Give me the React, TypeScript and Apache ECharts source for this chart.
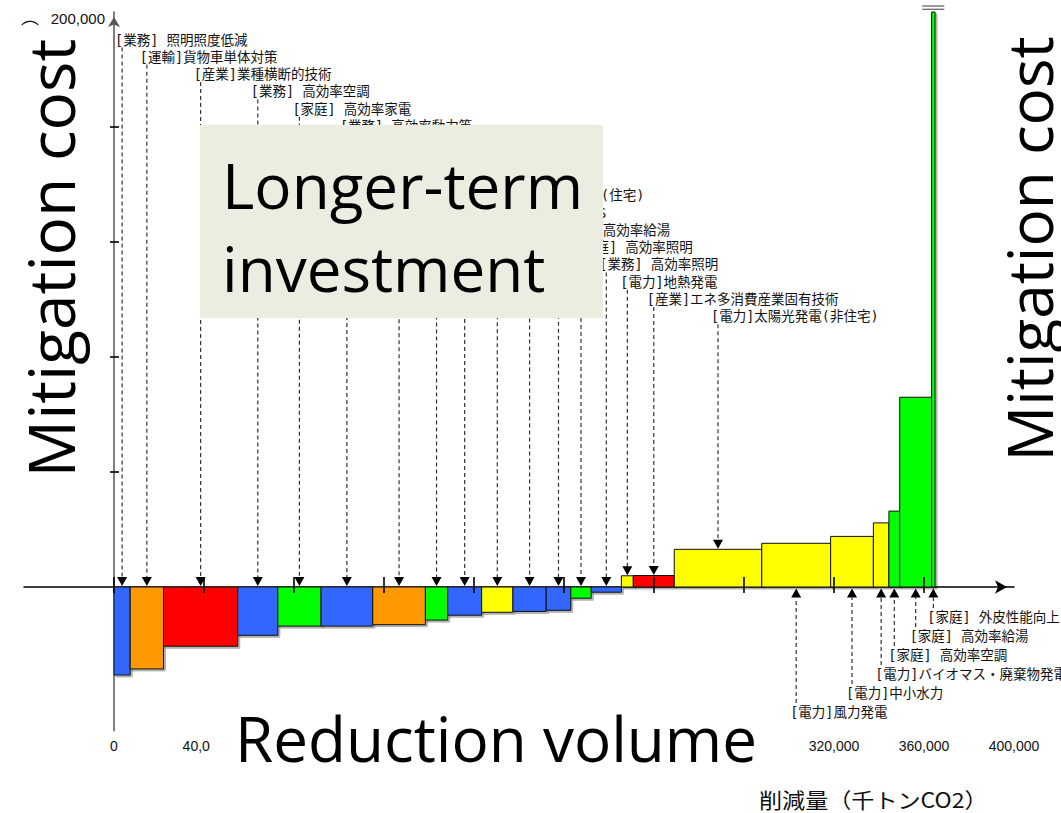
import React, { useEffect, useRef } from 'react';
import * as echarts from 'echarts';

// ---- data ----
// cumulative reduction volume (千トンCO2) at each step boundary
const edges = [0, 7200, 22000, 55000, 72800, 92000, 115000, 138400, 148300, 163400, 177300, 192100, 203000, 212100, 225500, 230800, 249000, 287900, 318500, 337500, 344400, 349200, 363400, 364900];
// mitigation cost of each measure
const costs = [-30600, -28500, -20600, -16800, -13600, -13600, -13100, -11500, -9800, -8800, -8500, -8100, -3900, -1800, 3900, 4000, 13100, 15200, 17600, 22300, 26400, 66000, 200000];
const sectors = ['業務', '運輸', '産業', '業務', '家庭', '業務', '運輸', '家庭', '業務', '電力', '業務', '業務', '家庭', '業務', '電力', '産業', '電力', '電力', '電力', '電力', '家庭', '家庭', '家庭'];
const measureLabels = [
  '[業務] 照明照度低減',
  '[運輸]貨物車単体対策',
  '[産業]業種横断的技術',
  '[業務] 高効率空調',
  '[家庭] 高効率家電',
  '[業務] 高効率動力等',
  '',
  '',
  '',
  '[電力]太陽光発電(住宅)',
  '[業務] BEMS',
  '[業務] 高効率給湯',
  '[家庭] 高効率照明',
  '[業務] 高効率照明',
  '[電力]地熱発電',
  '[産業]エネ多消費産業固有技術',
  '[電力]太陽光発電(非住宅)',
  '[電力]風力発電',
  '[電力]中小水力',
  '[電力]バイオマス・廃棄物発電',
  '[家庭] 高効率空調',
  '[家庭] 高効率給湯',
  '[家庭] 外皮性能向上',
];
const sectorColors: Record<string, string> = {
  '業務': '#3366FF',
  '運輸': '#FF9900',
  '産業': '#FF0000',
  '家庭': '#00FF00',
  '電力': '#FFFF00',
};
const xTickValues = [0, 40000, 80000, 120000, 160000, 200000, 240000, 280000, 320000, 360000];
// x tick labels visible in the picture (the others are covered by the title box)
const xLabelValues = [0, 40000, 320000, 360000, 400000];
const yTickValues = [40000, 80000, 120000, 160000];
const yLabelValues = [200000];

const X_MIN = -40000;
const X_MAX = 400000;
const X_STEP = 40000;
const Y_MIN = -50000;
const Y_MAX = 200000;
const BOTTOM_LABEL_START = 17;

// ---- layout / style ----
const GRID_LEFT = 24;
const GRID_RIGHT = 47;
const CHART_W = 1061;
const TOP_Y0 = 39.5;
const TOP_DY = 17.3;
const BOT_Y0 = 617;
const BOT_DY = 19;
const LABEL_FONT = '"DejaVu Sans Mono", "Noto Sans CJK JP", sans-serif';
const BIG_FONT = '"Open Sans", "Noto Sans", sans-serif';
const BIG_SIZE = 62;

export default function App() {
  const ref = useRef<HTMLDivElement>(null);

  useEffect(() => {
    if (!ref.current) return;
    const chart = echarts.init(ref.current, undefined, { renderer: 'svg' });

    const barData = costs.map((c, i) => [edges[i], edges[i + 1], c]);
    const tickData = [
      ...xTickValues.map((v) => [v, 0, 0]),
      ...yTickValues.map((v) => [0, v, 1]),
    ];
    // y axis sits at x = 0: offset from the grid's left edge
    const plotW = CHART_W - GRID_LEFT - GRID_RIGHT;
    const yAxisOffset = -((0 - X_MIN) / (X_MAX - X_MIN)) * plotW;

    const option: any = {
      animation: false,
      backgroundColor: '#ffffff',
      grid: { left: GRID_LEFT, right: GRID_RIGHT, top: 12, bottom: 82.25, containLabel: false, outerBoundsMode: 'none' },
      xAxis: [
        {
          type: 'value',
          min: X_MIN,
          max: X_MAX,
          interval: X_STEP,
          axisLine: {
            show: true,
            onZero: true,
            symbol: ['none', 'arrow'],
            symbolSize: [10, 12],
            symbolOffset: [0, -7],
            lineStyle: { color: '#000', width: 1.5 },
          },
          axisTick: { show: false },
          axisLabel: { show: false },
          splitLine: { show: false },
        },
        {
          type: 'value',
          position: 'bottom',
          min: X_MIN,
          max: X_MAX,
          interval: X_STEP,
          axisLine: { show: false, onZero: false },
          axisTick: { show: false },
          splitLine: { show: false },
          axisLabel: {
            customValues: xLabelValues,
            margin: 8,
            fontSize: 14,
            fontFamily: '"Liberation Sans Narrow", "Liberation Sans", sans-serif',
            color: '#111',
            formatter: (v: number) => v.toLocaleString('en-US'),
          },
        },
      ],
      yAxis: {
        type: 'value',
        min: Y_MIN,
        max: Y_MAX,
        offset: yAxisOffset,
        axisLine: {
          show: true,
          onZero: false,
          symbol: ['none', 'arrow'],
          symbolSize: [9, 10],
          symbolOffset: [0, -5],
          lineStyle: { color: '#555', width: 1.5 },
        },
        axisTick: { show: false },
        splitLine: { show: false },
        axisLabel: {
          customValues: yLabelValues,
          margin: 9,
          fontSize: 15,
          fontFamily: '"Liberation Sans", sans-serif',
          color: '#111',
          formatter: (v: number) => '{t|' + v.toLocaleString('en-US') + '}',
          rich: { t: { fontSize: 15, padding: [13, 0, 0, 0], fontFamily: '"Liberation Sans", sans-serif', color: '#111' } },
        },
      },
      series: [
        {
          type: 'custom',
          name: 'bars',
          data: barData,
          encode: { x: [0, 1], y: 2 },
          z: 2,
          renderItem: (params: any, api: any) => {
            const i = params.dataIndex;
            const x0 = api.value(0);
            const x1 = api.value(1);
            const v = api.value(2);
            const vClip = Math.min(v, Y_MAX);
            const p0 = api.coord([x0, 0]);
            const p1 = api.coord([x1, vClip]);
            const rect = {
              type: 'rect',
              shape: {
                x: p0[0],
                y: Math.min(p0[1], p1[1]),
                width: p1[0] - p0[0],
                height: Math.abs(p1[1] - p0[1]),
              },
              style: {
                fill: sectorColors[sectors[i]],
                stroke: '#111',
                lineWidth: 1,
                shadowColor: 'rgba(0,0,0,0.3)',
                shadowOffsetX: 2,
                shadowOffsetY: 2,
                shadowBlur: 1,
              },
            };
            if (v < Y_MAX) return rect;
            const cx = (p0[0] + p1[0]) / 2;
            const top = p1[1];
            return {
              type: 'group',
              children: [
                rect,
                { type: 'line', shape: { x1: cx - 11, y1: top - 6, x2: cx + 11, y2: top - 6 }, style: { stroke: '#666', lineWidth: 1.3 } },
                { type: 'line', shape: { x1: cx - 11, y1: top - 2.7, x2: cx + 11, y2: top - 2.7 }, style: { stroke: '#666', lineWidth: 1.3 } },
              ],
            };
          },
        },
        {
          type: 'custom',
          name: 'ticks',
          data: tickData,
          encode: { x: 0, y: 1 },
          z: 3,
          silent: true,
          renderItem: (params: any, api: any) => {
            const p = api.coord([api.value(0), api.value(1)]);
            const isY = api.value(2) === 1;
            const shape = isY
              ? { x1: p[0] - 4, y1: p[1], x2: p[0] + 5, y2: p[1] }
              : { x1: p[0], y1: p[1] - 10, x2: p[0], y2: p[1] + 6 };
            return { type: 'line', shape, style: { stroke: '#000', lineWidth: 1.6 } };
          },
        },
        {
          type: 'custom',
          name: 'annotations',
          data: barData,
          encode: { x: [0, 1], y: 2 },
          z: 4,
          silent: true,
          renderItem: (params: any, api: any) => {
            const i = params.dataIndex;
            const xc = (api.value(0) + api.value(1)) / 2;
            const v = api.value(2);
            const base = api.coord([xc, 0]);
            const px = base[0];
            const children: any[] = [];
            const dash = { stroke: '#333', lineWidth: 1.2, lineDash: [4, 3] };
            if (i < BOTTOM_LABEL_START) {
              const rowY = TOP_Y0 + i * TOP_DY;
              const tipY = v < 0 ? base[1] - 1 : api.coord([xc, v])[1] - 0.5;
              children.push({ type: 'line', shape: { x1: px, y1: rowY + 8, x2: px, y2: tipY - 9 }, style: dash });
              children.push({
                type: 'polygon',
                shape: { points: [[px - 5, tipY - 9], [px + 5, tipY - 9], [px, tipY]] },
                style: { fill: '#000' },
              });
              if (measureLabels[i]) {
                children.push({
                  type: 'text',
                  style: {
                    text: measureLabels[i], x: px - 7, y: rowY, fill: '#111',
                    fontSize: 13.5, fontFamily: LABEL_FONT, align: 'left', verticalAlign: 'middle',
                  },
                });
              }
            } else {
              const row = costs.length - 1 - i;
              const rowY = BOT_Y0 + row * BOT_DY;
              const tipY = base[1] + 1.5;
              children.push({ type: 'line', shape: { x1: px, y1: rowY - 9, x2: px, y2: tipY + 9 }, style: dash });
              children.push({
                type: 'polygon',
                shape: { points: [[px - 5, tipY + 9], [px + 5, tipY + 9], [px, tipY]] },
                style: { fill: '#000' },
              });
              children.push({
                type: 'text',
                style: {
                  text: measureLabels[i], x: px - 6, y: rowY, fill: '#111',
                  fontSize: 13.5, fontFamily: LABEL_FONT, align: 'left', verticalAlign: 'middle',
                },
              });
            }
            return { type: 'group', children };
          },
        },
      ],
      graphic: [
        { type: 'rect', z: 100, shape: { x: 0, y: 30, width: 101, height: 480 }, style: { fill: '#ffffff' } },
        {
          type: 'text', z: 101, x: 30, y: 16,
          style: { text: '︵', fontSize: 18, fontFamily: '"Noto Sans CJK JP", sans-serif', fill: '#111', align: 'center', verticalAlign: 'middle' },
        },
        {
          type: 'text', z: 101, x: 50, y: 258, rotation: Math.PI / 2,
          style: { text: 'Mitigation cost', fontSize: 64, fontFamily: BIG_FONT, fill: '#000', align: 'center', verticalAlign: 'middle' },
        },
        { type: 'rect', z: 100, shape: { x: 200, y: 125, width: 403, height: 193 }, style: { fill: '#EBEDE0' } },
        {
          type: 'text', z: 101, x: 222, y: 185,
          style: { text: 'Longer-term', fontSize: BIG_SIZE, fontFamily: BIG_FONT, fill: '#000', align: 'left', verticalAlign: 'middle' },
        },
        {
          type: 'text', z: 101, x: 222, y: 268,
          style: { text: 'investment', fontSize: BIG_SIZE, fontFamily: BIG_FONT, fill: '#000', align: 'left', verticalAlign: 'middle' },
        },
        { type: 'rect', z: 100, shape: { x: 210, y: 706, width: 572, height: 72 }, style: { fill: '#ffffff' } },
        {
          type: 'text', z: 101, x: 235, y: 738,
          style: { text: 'Reduction volume', fontSize: BIG_SIZE, fontFamily: BIG_FONT, fill: '#000', align: 'left', verticalAlign: 'middle' },
        },
        {
          type: 'text', z: 101, x: 1029, y: 249, rotation: Math.PI / 2,
          style: { text: 'Mitigation cost', fontSize: BIG_SIZE, fontFamily: BIG_FONT, fill: '#000', align: 'center', verticalAlign: 'middle' },
        },
        {
          type: 'text', z: 101, x: 759, y: 798, scaleX: 1.1,
          style: { text: '削減量（千トンCO2）', fontSize: 21, fontFamily: '"Noto Sans CJK JP", sans-serif', fill: '#111', align: 'left', verticalAlign: 'middle' },
        },
      ],
    };

    chart.setOption(option);
    return () => chart.dispose();
  }, []);

  return <div ref={ref} style={{ position: 'fixed', left: 0, top: 0, width: 1061, height: 813 }} />;
}
